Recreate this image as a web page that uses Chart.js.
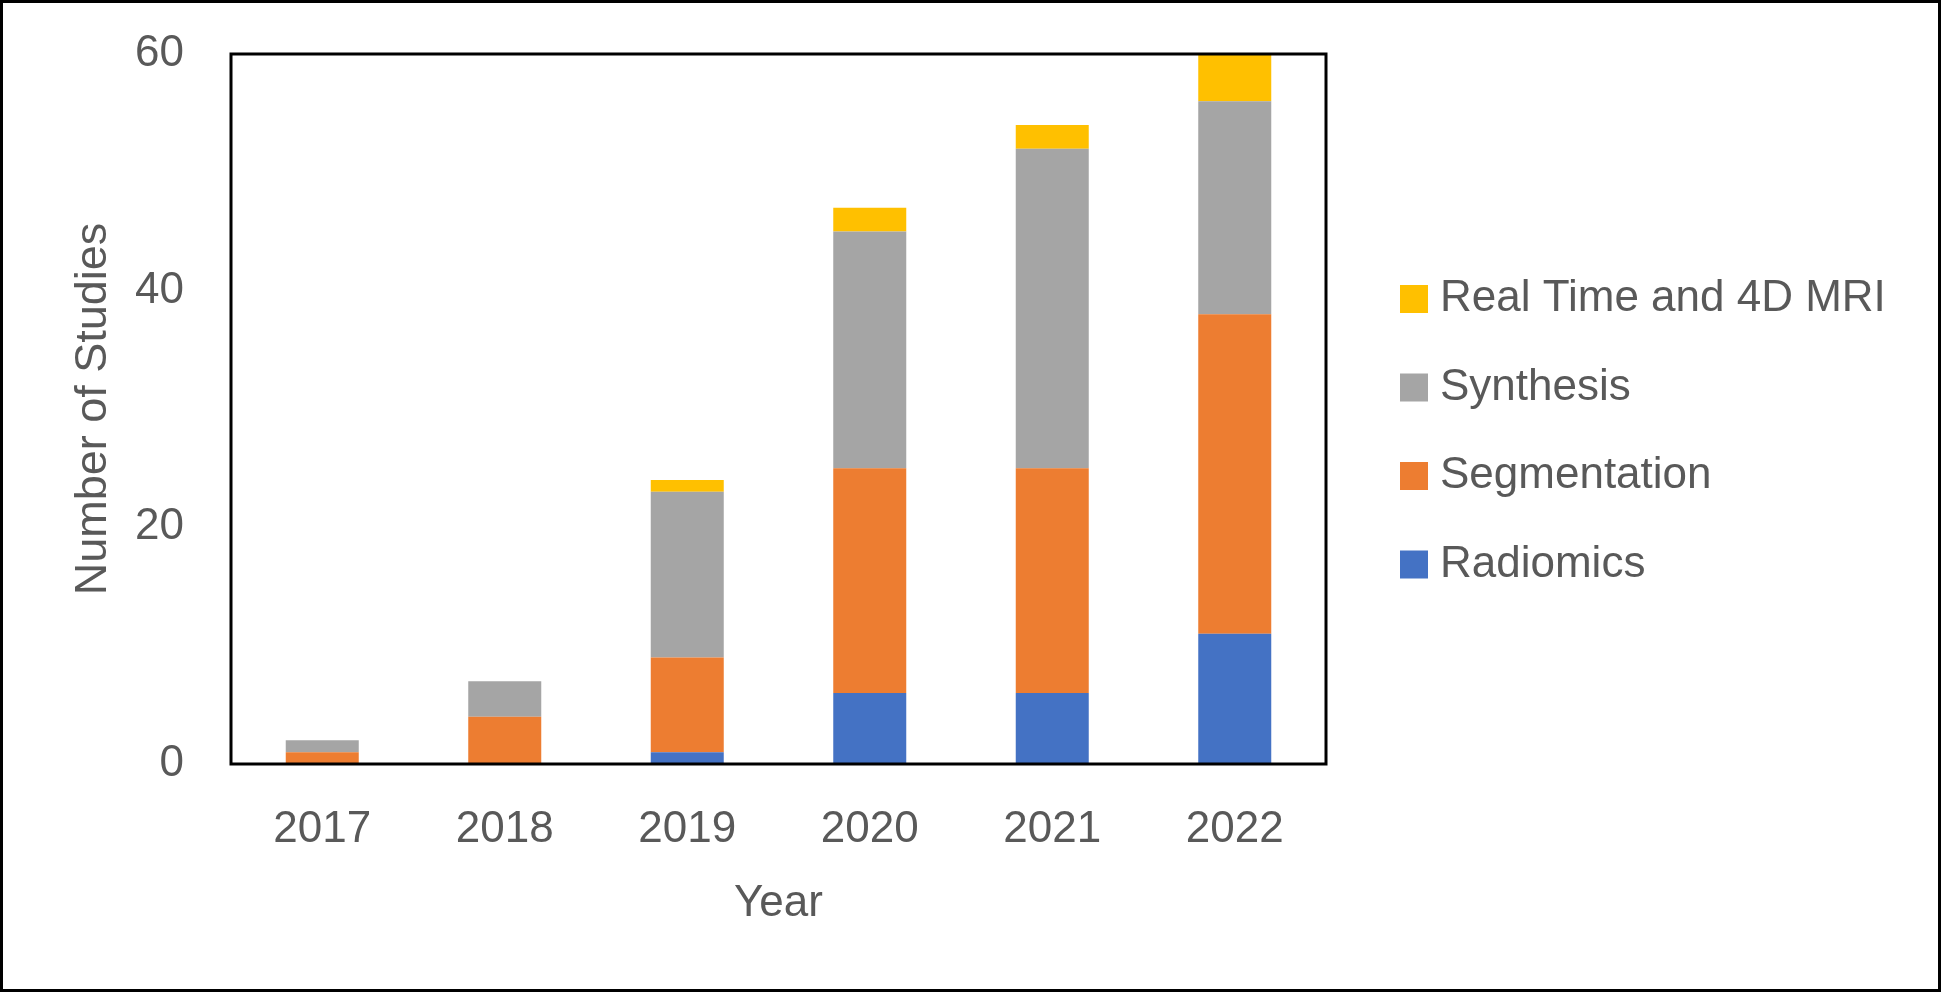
<!DOCTYPE html>
<html>
<head>
<meta charset="utf-8">
<script src="https://cdn.jsdelivr.net/npm/chart.js@4"></script>
<style>
  html, body { margin: 0; padding: 0; background: #ffffff; }
  #wrap { width: 1941px; height: 992px; position: relative; }
</style>
</head>
<body>
<div id="wrap"><canvas id="c" width="1941" height="992"></canvas></div>
<script>
// ---- data ----
const years = ['2017', '2018', '2019', '2020', '2021', '2022'];
const radiomics    = [0, 0, 1, 6, 6, 11];
const segmentation = [1, 4, 8, 19, 19, 27];
const synthesis    = [1, 3, 14, 20, 27, 18];
const realTime4D   = [0, 0, 1, 2, 2, 4];
const seriesNames  = ['Radiomics', 'Segmentation', 'Synthesis', 'Real Time and 4D MRI'];
const yTicks = [0, 20, 40, 60];
const xTitle = 'Year';
const yTitle = 'Number of Studies';

// ---- style ----
const colors = ['#4472C4', '#ED7D31', '#A5A5A5', '#FFC000'];
const textColor = '#595959';
const FONT = "'Liberation Sans', Arial, sans-serif";
const FS = 44;
const LEGEND_FS = 44;

const seriesValues = [radiomics, segmentation, synthesis, realTime4D];

const frameAndLegend = {
  id: 'frameAndLegend',
  afterDatasetsDraw(chart) {
    const ctx = chart.ctx;
    const a = chart.chartArea;
    ctx.save();
    ctx.strokeStyle = '#000000';
    ctx.lineWidth = 3;
    ctx.strokeRect(a.left, a.top, a.right - a.left, a.bottom - a.top);
    ctx.restore();
  },
  afterDraw(chart) {
    const ctx = chart.ctx;
    ctx.save();
    // outer border
    ctx.strokeStyle = '#000000';
    ctx.lineWidth = 3;
    ctx.strokeRect(1.5, 1.5, chart.width - 3, chart.height - 3);
    // legend (reverse order)
    const ds = chart.data.datasets;
    const x0 = 1400, box = 28, textX = 1440, y0 = 299, gap = 88.5;
    ctx.font = LEGEND_FS + 'px ' + FONT;
    ctx.textBaseline = 'middle';
    ctx.textAlign = 'left';
    for (let k = 0; k < ds.length; k++) {
      const d = ds[ds.length - 1 - k];
      const cy = y0 + k * gap;
      ctx.fillStyle = d.backgroundColor;
      ctx.fillRect(x0, cy - box / 2, box, box);
      ctx.fillStyle = textColor;
      ctx.fillText(d.label, textX, cy);
    }
    ctx.restore();
  }
};

new Chart(document.getElementById('c'), {
  type: 'bar',
  data: {
    labels: years,
    datasets: seriesNames.map((name, i) => ({
      label: name,
      data: seriesValues[i],
      backgroundColor: colors[i],
      borderWidth: 0,
      categoryPercentage: 1.0,
      barPercentage: 0.4
    }))
  },
  options: {
    responsive: false,
    devicePixelRatio: 1,
    animation: false,
    layout: { autoPadding: false, padding: { top: 54, right: 615, left: 0, bottom: 0 } },
    plugins: { legend: { display: false }, tooltip: { enabled: false } },
    scales: {
      x: {
        stacked: true,
        grid: { display: false, drawTicks: false },
        border: { display: false },
        ticks: { color: textColor, font: { family: FONT, size: FS }, padding: 39, maxRotation: 0, autoSkip: false },
        title: { display: true, text: xTitle, color: textColor, font: { family: FONT, size: FS }, padding: { top: 0, bottom: 62 } },
        afterFit(s) { s.height = 228; s.paddingLeft = 0; s.paddingRight = 0; }
      },
      y: {
        stacked: true,
        min: 0, max: 60,
        grid: { display: false, drawTicks: false },
        border: { display: false },
        afterBuildTicks(s) { s.ticks = yTicks.map(v => ({ value: v })); },
        ticks: { color: textColor, font: { family: FONT, size: FS }, padding: 47 },
        title: { display: true, text: yTitle, color: textColor, font: { family: FONT, size: 45 }, padding: { top: 67, bottom: 0 } },
        afterFit(s) { s.width = 231; s.paddingTop = 0; s.paddingBottom = 0; }
      }
    }
  },
  plugins: [frameAndLegend]
});
</script>
</body>
</html>
